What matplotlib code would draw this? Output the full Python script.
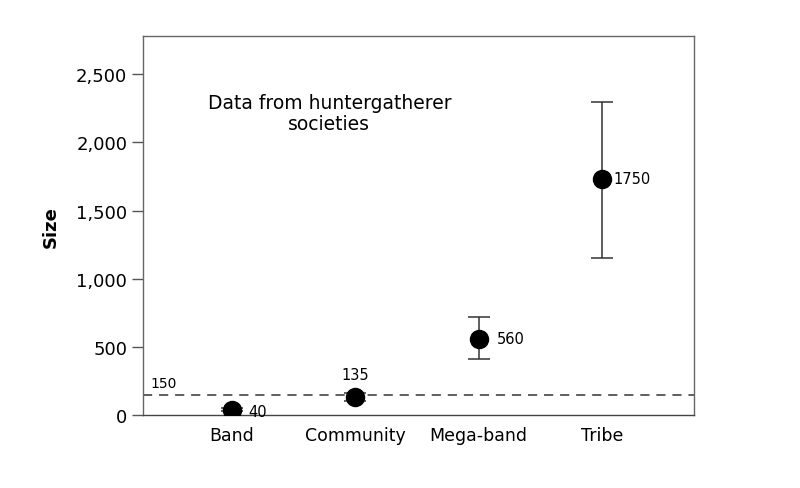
import numpy as np
import matplotlib.pyplot as plt
from matplotlib.ticker import FuncFormatter

# data
groups = ["Band", "Community", "Mega-band", "Tribe"]
sizes = [40, 135, 560, 1735]
lower = [30, 105, 410, 1150]
upper = [50, 165, 720, 2300]
labels = ["40", "135", "560", "1750"]
threshold = 150

x = np.arange(len(groups))
sizes_arr = np.array(sizes)
yerr = [sizes_arr - np.array(lower), np.array(upper) - sizes_arr]

fig = plt.figure(figsize=(8, 4.89), dpi=100)
ax = fig.add_axes([0.179, 0.149, 0.689, 0.775])

ax.errorbar(x, sizes, yerr=yerr, fmt="o", color="black", ms=13,
            ecolor="#333333", elinewidth=1.1, capsize=8, capthick=1.1, zorder=3)
ax.axhline(threshold, color="#333333", ls=(0, (6, 4.5)), lw=1.1, zorder=2)
ax.text(-0.66, threshold + 35, str(threshold), fontsize=10, va="bottom", ha="left")

# value labels beside the points
offsets = [(0.13, -10, "left", "center"), (0, 110, "center", "bottom"),
           (0.15, 0, "left", "center"), (0.09, 0, "left", "center")]
for xi, yi, lab, (dx, dy, ha, va) in zip(x, sizes, labels, offsets):
    ax.text(xi + dx, yi + dy, lab, fontsize=10.5, ha=ha, va=va)

ax.text(0.79, 2215, "Data from huntergatherer\nsocieties", fontsize=13.5,
        ha="center", va="center", linespacing=1.15)

ax.set_xlim(-0.72, 3.75)
ax.set_ylim(0, 2780)
ax.set_yticks([0, 500, 1000, 1500, 2000, 2500])
ax.yaxis.set_major_formatter(FuncFormatter(lambda v, p: f"{int(v):,}"))
ax.set_xticks(x)
ax.set_xticklabels(groups)
ax.tick_params(axis="y", labelsize=13, length=8, width=1, color="#555555")
ax.tick_params(axis="x", labelsize=12.5, length=0, pad=8)
ax.set_ylabel("Size", fontsize=13, fontweight="bold", labelpad=12)

for s in ax.spines.values():
    s.set_color("#666666")
    s.set_linewidth(1.0)
ax.spines["bottom"].set_color("#444444")

fig.savefig("out.png", dpi=100, facecolor="white")
